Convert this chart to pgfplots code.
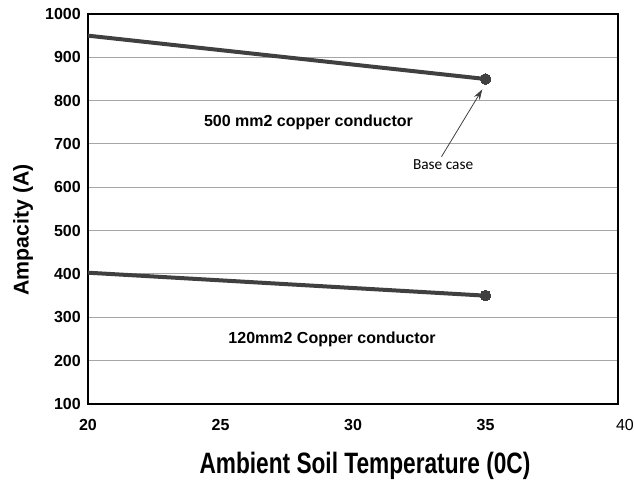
\documentclass[border=0pt]{standalone}
\usepackage{fontspec}
\setmainfont{Liberation Sans}
\newfontfamily\calibri{Carlito}
\usepackage{pgfplots}
\pgfplotsset{compat=1.18}
\usetikzlibrary{arrows.meta}
\definecolor{linec}{HTML}{404040}
\definecolor{gridc}{HTML}{A6A6A6}
\begin{document}
\begin{tikzpicture}
\begin{axis}[
  at={(66pt,57.75pt)}, anchor=south west,
  scale only axis, width=397.5pt, height=292.5pt,
  xmin=20, xmax=40, ymin=100, ymax=1000,
  xtick={20,25,30,35,40},
  xticklabels={20,25,30,35,{\mdseries\makebox[0pt][l]{\hspace{-1.5pt}40}}},
  ytick={100,200,...,1000},
  major tick length=0pt,
  /pgf/number format/assume math mode=true,
  /pgf/number format/1000 sep={},
  tick label style={font=\bfseries\fontsize{12}{14}\selectfont, inner sep=0pt},
  xticklabel style={anchor=north, yshift=-11.25pt},
  yticklabel style={anchor=east, xshift=-5.25pt},
  ymajorgrids, grid style={gridc, line width=0.75pt},
  axis line style={black, line width=1.2pt},
  ylabel={\bfseries\fontsize{16}{18}\selectfont Ampacity (A)},
  ylabel style={at={(axis description cs:-0.1226,0.446)}, anchor=center},
  xlabel={\bfseries\fontsize{17}{19}\selectfont\scalebox{1}[1.3]{Ambient Soil Temperature (0C)}},
  xlabel style={at={(axis description cs:0.5226,-0.178)}, anchor=base, inner sep=0pt},
  clip=false,
]
\addplot[linec, line width=3pt, mark=*, mark indices={2}, mark size=4pt, mark options={fill=linec, draw=linec, line width=0pt}] coordinates {(20,950) (35,850)};
\addplot[linec, line width=3pt, mark=*, mark indices={2}, mark size=4pt, mark options={fill=linec, draw=linec, line width=0pt}] coordinates {(20,403) (35,350)};
\node[anchor=base, inner sep=0pt, font=\bfseries\fontsize{12}{14}\selectfont] at (axis cs:28.32,740) {500 mm2 copper conductor};
\node[anchor=base, inner sep=0pt, font=\bfseries\fontsize{12}{14}\selectfont] at (axis cs:29.21,239.6) {120mm2 Copper conductor};
\node[anchor=base, inner sep=0pt, font=\calibri\fontsize{11.5}{13}\selectfont] at (axis cs:33.40,640) {Base case};
\draw[-{Stealth[length=8pt,width=5pt]}, linec, line width=0.6pt] (axis cs:33.34,670.7) -- (axis cs:34.88,826.2);
\end{axis}
\pgfresetboundingbox
\useasboundingbox (0,0) rectangle (475.5pt,360.75pt);
\end{tikzpicture}
\end{document}
